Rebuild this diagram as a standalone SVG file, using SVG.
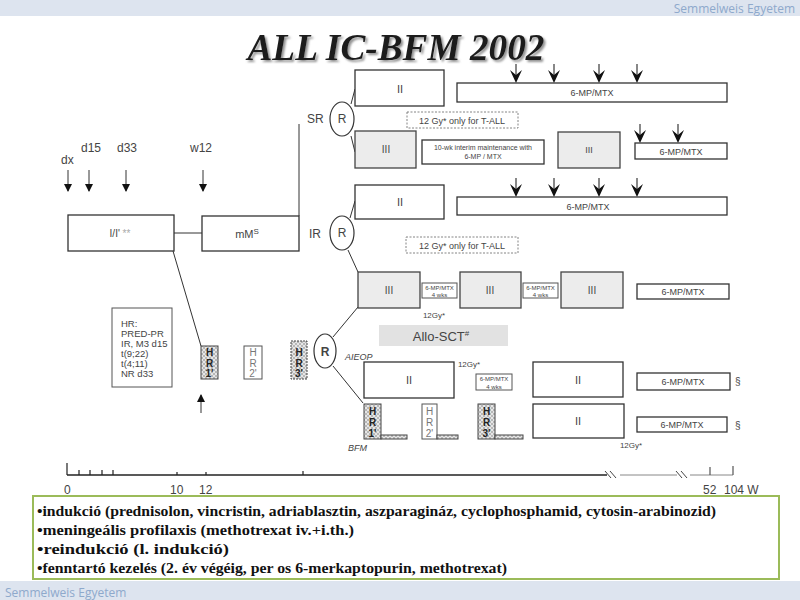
<svg xmlns="http://www.w3.org/2000/svg" width="800" height="600" viewBox="0 0 800 600">
<style>
.bx{fill:#fff;stroke:#333;stroke-width:1.3}
.gb{fill:#ececec;stroke:#444;stroke-width:1.3}
.hb{fill:url(#hatch);stroke:#444;stroke-width:1}
.wb{fill:#fff;stroke:#555;stroke-width:1}
.ln{stroke:#333;stroke-width:1;fill:none}
.dash{fill:#fff;stroke:#777;stroke-width:0.9;stroke-dasharray:2,1.5}
.t{font-family:"Liberation Sans",Arial,sans-serif;fill:#444}
.s9{font-size:9px}
.s10{font-size:10px}
.s11{font-size:11px}
.s12{font-size:12px}
.m{text-anchor:middle}
.hr{font-family:"Liberation Sans",Arial,sans-serif;font-size:10px;font-weight:bold;fill:#222;text-anchor:middle}
.hr2{font-family:"Liberation Sans",Arial,sans-serif;font-size:10px;fill:#777;text-anchor:middle}
.brand{font-family:"Open Sans","Liberation Sans",sans-serif;font-size:12px;fill:#8ea9cc}
.bul{font-family:"Liberation Serif","Times New Roman",serif;font-size:15.5px;font-weight:bold;fill:#111}
</style>
<defs>
<pattern id="hatch" width="4" height="4" patternUnits="userSpaceOnUse">
<rect width="4" height="4" fill="#e6e6e6"/>
<path d="M0,0 L4,4 M4,0 L0,4" stroke="#999" stroke-width="0.6"/>
</pattern>
<marker id="ah" markerWidth="8" markerHeight="8" refX="7" refY="4" orient="auto" markerUnits="userSpaceOnUse">
<path d="M0,0 L8,4 L0,8 Z" fill="#111"/>
</marker>
<g id="marr">
<line x1="0" y1="-19" x2="0" y2="-8" stroke="#888" stroke-width="2"/>
<path d="M-6,-13 L0,0 L6,-13 L0,-8 Z" fill="#111"/>
</g>
<filter id="sh" x="-10%" y="-20%" width="130%" height="150%">
<feDropShadow dx="2" dy="2" stdDeviation="1.2" flood-color="#777" flood-opacity="0.8"/>
</filter>
</defs>

<rect width="800" height="600" fill="#fff"/>
<g id="header">
<rect x="0" y="0" width="800" height="16" fill="#dde4ef"/>
<text class="brand" x="795" y="13" text-anchor="end">Semmelweis Egyetem</text>
</g>
<g id="footer">
<rect x="0" y="581" width="800" height="19" fill="#dde4ef"/>
<text class="brand" x="5" y="597">Semmelweis Egyetem</text>
</g>

<g id="title">
<text x="396" y="60" text-anchor="middle" font-family="Liberation Serif,'Times New Roman',serif" font-size="37" font-weight="bold" font-style="italic" fill="#1c1c1c" filter="url(#sh)" textLength="297" lengthAdjust="spacingAndGlyphs">ALL IC-BFM 2002</text>
</g>

<g id="time-labels">
<text class="t s12" x="61" y="164">dx</text>
<text class="t s12" x="81" y="152">d15</text>
<text class="t s12" x="117" y="152">d33</text>
<text class="t s12" x="190" y="152">w12</text>
<text class="t s12" x="307" y="123">SR</text>
<text class="t s12" x="309" y="238">IR</text>
</g>

<g id="connectors">
<line class="ln" x1="68" y1="170" x2="68" y2="191" marker-end="url(#ah)"/>
<line class="ln" x1="89" y1="170" x2="89" y2="191" marker-end="url(#ah)"/>
<line class="ln" x1="126" y1="170" x2="126" y2="191" marker-end="url(#ah)"/>
<line class="ln" x1="203" y1="170" x2="203" y2="191" marker-end="url(#ah)"/>
<line class="ln" x1="174" y1="233" x2="202" y2="233"/>
<line class="ln" x1="299" y1="124" x2="299" y2="216"/>
<line class="ln" x1="173" y1="251" x2="201" y2="346"/>
<line class="ln" x1="351" y1="104" x2="355" y2="89"/>
<line class="ln" x1="351" y1="136" x2="355" y2="152"/>
<line class="ln" x1="350" y1="218" x2="355" y2="201"/>
<line class="ln" x1="348" y1="250" x2="358" y2="272"/>
<line class="ln" x1="333" y1="337" x2="358" y2="307"/>
<line class="ln" x1="333" y1="366" x2="363" y2="403"/>
<line class="ln" x1="201" y1="413" x2="201" y2="395" marker-end="url(#ah)"/>
<use href="#marr" x="516" y="83"/>
<use href="#marr" x="554" y="83"/>
<use href="#marr" x="599" y="83"/>
<use href="#marr" x="637" y="83"/>
<use href="#marr" x="640" y="143"/>
<use href="#marr" x="678" y="143"/>
<use href="#marr" x="516" y="197"/>
<use href="#marr" x="554" y="197"/>
<use href="#marr" x="599" y="197"/>
<use href="#marr" x="637" y="197"/>
</g>

<g id="induction">
<rect class="bx" x="68" y="215" width="106" height="36"/>
<text class="t s10 m" x="120" y="237">I/I' <tspan fill="#aaa">**</tspan></text>
</g>
<g id="mM">
<rect class="bx" x="202" y="216" width="97" height="35"/>
<text class="t s11 m" x="247" y="238">mM<tspan font-size="8" dy="-4">S</tspan></text>
</g>

<g id="SR-R">
<ellipse cx="342" cy="119" rx="12" ry="17" fill="#fff" stroke="#333" stroke-width="1.2"/>
<text class="t s12 m" x="342" y="123" fill="#222">R</text>
</g>
<g id="SR-II"><rect class="bx" x="355" y="70" width="89" height="36"/><text class="t s11 m" x="400" y="93">II</text></g>
<g id="SR-maint"><rect class="bx" x="457" y="83" width="270" height="19"/><text class="t s9 m" x="592" y="96">6-MP/MTX</text></g>
<g id="SR-12gy"><rect class="dash" x="407" y="112" width="111" height="16"/><text class="t s9 m" x="462" y="124">12 Gy* only for T-ALL</text></g>
<g id="SR-III"><rect class="gb" x="355" y="131" width="61" height="37"/><text class="t s10 m" x="386" y="153">III</text></g>
<g id="SR-interim"><rect class="bx" x="422" y="140" width="122" height="24"/>
<text class="t m" font-size="7" x="483" y="150">10-wk interim maintenance with</text>
<text class="t m" font-size="7" x="483" y="159">6-MP / MTX</text></g>
<g id="SR-III2"><rect class="gb" x="558" y="132" width="62" height="36"/><text class="t s9 m" x="589" y="153">III</text></g>
<g id="SR-maint2"><rect class="bx" x="635" y="143" width="92" height="16"/><text class="t s9 m" x="681" y="155">6-MP/MTX</text></g>

<g id="IR-R">
<ellipse cx="342" cy="233" rx="12" ry="17" fill="#fff" stroke="#333" stroke-width="1.2"/>
<text class="t s12 m" x="342" y="237" fill="#222">R</text>
</g>
<g id="IR-II"><rect class="bx" x="355" y="185" width="89" height="34"/><text class="t s11 m" x="400" y="206">II</text></g>
<g id="IR-maint"><rect class="bx" x="457" y="197" width="270" height="18"/><text class="t s9 m" x="588" y="210">6-MP/MTX</text></g>
<g id="IR-12gy"><rect class="dash" x="406" y="237" width="112" height="16"/><text class="t s9 m" x="462" y="249">12 Gy* only for T-ALL</text></g>
<g id="IR-III1"><rect class="gb" x="358" y="272" width="62" height="36"/><text class="t s10 m" x="389" y="294">III</text></g>
<g id="IR-s1"><rect class="wb" x="422" y="283" width="35" height="15"/><text class="t m" font-size="6" x="439.5" y="290">6-MP/MTX</text><text class="t m" font-size="6" x="439.5" y="297">4 wks</text></g>
<g id="IR-III2"><rect class="gb" x="460" y="272" width="61" height="36"/><text class="t s10 m" x="490" y="294">III</text></g>
<g id="IR-s2"><rect class="wb" x="523" y="283" width="35" height="15"/><text class="t m" font-size="6" x="540.5" y="290">6-MP/MTX</text><text class="t m" font-size="6" x="540.5" y="297">4 wks</text></g>
<g id="IR-III3"><rect class="gb" x="561" y="272" width="62" height="36"/><text class="t s10 m" x="592" y="294">III</text></g>
<g id="IR-maint2"><rect class="bx" x="637" y="284" width="92" height="15"/><text class="t s9 m" x="683" y="295">6-MP/MTX</text></g>
<text class="t m" font-size="8" x="434" y="318">12Gy*</text>

<g id="allo"><rect x="379" y="325" width="129" height="21" fill="#e2e2e2"/><text class="t m" font-size="13" x="441" y="341">Allo-SCT<tspan font-size="8" dy="-5">#</tspan></text></g>

<g id="HR-criteria"><rect class="wb" x="112" y="308" width="60" height="79"/>
<text class="t" font-size="9.5" x="121" y="327">HR:</text>
<text class="t" font-size="9.5" x="121" y="337">PRED-PR</text>
<text class="t" font-size="9.5" x="121" y="347">IR, M3 d15</text>
<text class="t" font-size="9.5" x="121" y="357">t(9;22)</text>
<text class="t" font-size="9.5" x="121" y="367">t(4;11)</text>
<text class="t" font-size="9.5" x="121" y="377">NR d33</text></g>

<g id="HR1a"><rect class="hb" x="201" y="346" width="17" height="33"/><text class="hr" x="209.5" y="356">H</text><text class="hr" x="209.5" y="367">R</text><text class="hr" x="209.5" y="377">1'</text></g>
<g id="HR2a"><rect class="wb" x="244" y="346" width="18" height="33"/><text class="hr2" x="253" y="356">H</text><text class="hr2" x="253" y="367">R</text><text class="hr2" x="253" y="377">2'</text></g>
<g id="HR3a"><rect x="291" y="341" width="16" height="38" fill="url(#hatch)" stroke="#444" stroke-width="1" stroke-dasharray="2,1"/><text class="hr" x="299" y="356">H</text><text class="hr" x="299" y="367">R</text><text class="hr" x="299" y="377">3'</text></g>

<g id="HR-R">
<ellipse cx="325" cy="351" rx="11" ry="17" fill="#fff" stroke="#333" stroke-width="1.2"/>
<text class="t s12 m" x="325" y="356" font-weight="bold" fill="#222">R</text>
</g>
<text class="t s9" x="345" y="360" font-style="italic">AIEOP</text>
<text class="t s9" x="348" y="451" font-style="italic">BFM</text>

<g id="AIEOP-II"><rect class="bx" x="364" y="362" width="90" height="36"/><text class="t s11 m" x="409" y="384">II</text></g>
<text class="t m" font-size="8" x="469" y="367">12Gy*</text>
<g id="AIEOP-s"><rect class="wb" x="476" y="374" width="36" height="16"/><text class="t m" font-size="6" x="494" y="381">6-MP/MTX</text><text class="t m" font-size="6" x="494" y="388.5">4 wks</text></g>
<g id="AIEOP-II2"><rect class="bx" x="533" y="362" width="90" height="35"/><text class="t s11 m" x="578" y="384">II</text></g>
<g id="AIEOP-maint"><rect class="bx" x="637" y="373" width="93" height="17"/><text class="t s9 m" x="683" y="385">6-MP/MTX</text></g>
<text class="t s10" x="735" y="385">§</text>

<g id="HR1b"><rect class="hb" x="364" y="404" width="17" height="35"/><rect class="hb" x="381" y="435" width="26" height="4"/><text class="hr" x="372.5" y="415">H</text><text class="hr" x="372.5" y="426">R</text><text class="hr" x="372.5" y="437">1'</text></g>
<g id="HR2b"><rect class="wb" x="422" y="404" width="15" height="35"/><rect class="hb" x="437" y="435" width="21" height="4"/><text class="hr2" x="429.5" y="415">H</text><text class="hr2" x="429.5" y="426">R</text><text class="hr2" x="429.5" y="437">2'</text></g>
<g id="HR3b"><rect class="hb" x="478" y="404" width="17" height="35"/><rect class="hb" x="495" y="435" width="28" height="4"/><text class="hr" x="486.5" y="415">H</text><text class="hr" x="486.5" y="426">R</text><text class="hr" x="486.5" y="437">3'</text></g>
<g id="BFM-II"><rect class="bx" x="533" y="404" width="91" height="34"/><text class="t s11 m" x="578" y="425">II</text></g>
<g id="BFM-maint"><rect class="bx" x="637" y="417" width="90" height="15"/><text class="t s9 m" x="682" y="428">6-MP/MTX</text></g>
<text class="t s10" x="735" y="429">§</text>
<text class="t m" font-size="8" x="631" y="448">12Gy*</text>

<g id="axis">
<line x1="67" y1="475" x2="607" y2="475" stroke="#222" stroke-width="1.5"/>
<line x1="620" y1="475" x2="677" y2="475" stroke="#888" stroke-width="1"/>
<line x1="690" y1="475" x2="733" y2="475" stroke="#888" stroke-width="1"/>
<path d="M605,471 L611,478 M610,471 L616,478" stroke="#444" stroke-width="1" fill="none"/>
<path d="M676,471 L682,478 M681,471 L687,478" stroke="#444" stroke-width="1" fill="none"/>
<path d="M67,463 V475 M79,470 V475 M90,470 V475 M102,470 V475 M113,470 V475 M177,472 V475 M206,472 V475 M303,471 V475" stroke="#222" stroke-width="1.2" fill="none"/>
<path d="M710,467 V475 M733,466 V475" stroke="#555" stroke-width="1.2" fill="none"/>
<text class="t s12" x="64" y="494">0</text>
<text class="t s12" x="170" y="494">10</text>
<text class="t s12" x="199" y="494">12</text>
<text class="t s12" x="703" y="494" fill="#222">52</text>
<text class="t s12" x="724" y="494" fill="#222">104 W</text>
</g>

<g id="notes">
<rect x="33" y="496" width="746" height="83" fill="#fff" stroke="#9bbb59" stroke-width="2"/>
<text class="bul" x="37" y="516" textLength="679" lengthAdjust="spacingAndGlyphs">•indukció (prednisolon, vincristin, adriablasztin, aszparagináz, cyclophosphamid, cytosin-arabinozid)</text>
<text class="bul" x="37" y="535" textLength="317" lengthAdjust="spacingAndGlyphs">•meningeális profilaxis (methotrexat iv.+i.th.)</text>
<text class="bul" x="37" y="554" textLength="192" lengthAdjust="spacingAndGlyphs">•reindukció (l. indukció)</text>
<text class="bul" x="37" y="573" textLength="470" lengthAdjust="spacingAndGlyphs">•fenntartó kezelés (2. év végéig, per os 6-merkaptopurin, methotrexat)</text>
</g>
</svg>
